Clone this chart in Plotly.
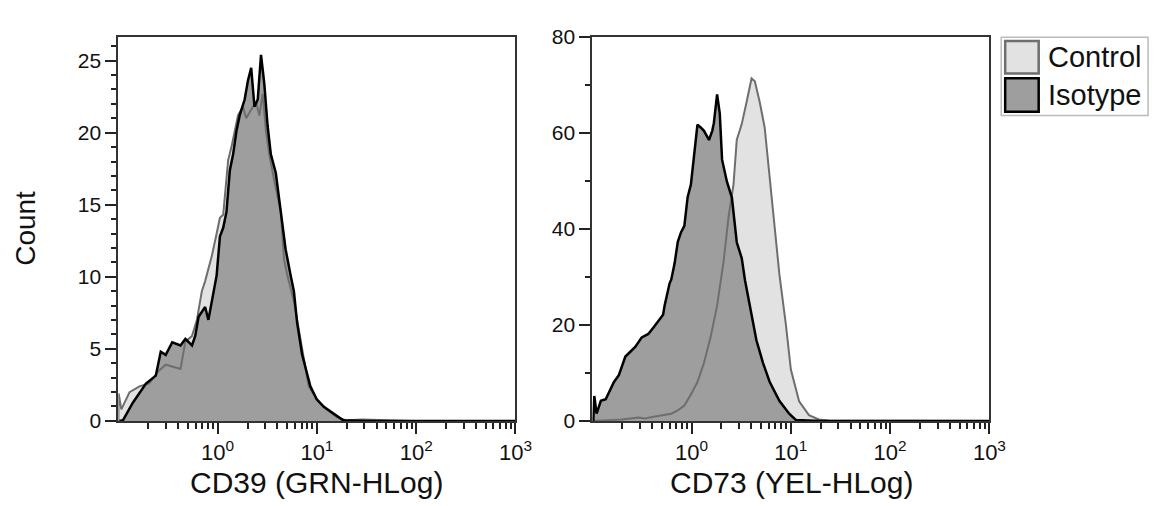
import plotly.graph_objects as go
from plotly.subplots import make_subplots

# CD39 panel, x in log10 units (decades), y = count
cd39_iso_log = [-0.99, -0.954, -0.854, -0.722, -0.623, -0.573, -0.523, -0.457, -0.374, -0.325,
                -0.258, -0.225, -0.192, -0.126, -0.093, -0.060, -0.010, 0.023, 0.056, 0.089,
                0.123, 0.156, 0.189, 0.222, 0.272, 0.305, 0.338, 0.371, 0.404, 0.437,
                0.470, 0.503, 0.536, 0.586, 0.636, 0.685, 0.735, 0.768, 0.801, 0.851,
                0.934, 0.998, 1.066, 1.132, 1.199, 1.265, 1.5, 3.0]
cd39_iso_cnt = [0, 0.04, 1.26, 2.59, 3.14, 4.80, 4.58, 5.46, 5.24, 5.69,
                5.24, 5.91, 7.23, 7.90, 7.01, 8.34, 10.1, 12.8, 13.4, 14.5,
                17.4, 18.5, 20.1, 21.2, 22.3, 23.6, 24.5, 21.8, 22.3, 25.4,
                23.4, 20.5, 18.5, 17.2, 14.5, 11.9, 10.1, 9.0, 6.8, 4.6,
                2.4, 1.5, 1.0, 0.7, 0.4, 0.04, 0, 0]

cd39_ctl_log = [-1.0, -0.997, -0.970, -0.937, -0.887, -0.788, -0.689, -0.589, -0.523, -0.424,
                -0.374, -0.325, -0.258, -0.209, -0.159, -0.126, -0.060, -0.010, 0.023, 0.056,
                0.106, 0.139, 0.172, 0.205, 0.255, 0.288, 0.338, 0.387, 0.421, 0.454,
                0.487, 0.520, 0.570, 0.636, 0.669, 0.702, 0.768, 0.834, 0.917, 1.000,
                1.099, 1.199, 1.298, 1.464, 1.662, 1.960, 3.0]
cd39_ctl_cnt = [0, 1.9, 0.8, 1.26, 2.0, 2.4, 2.6, 3.5, 3.9, 3.7,
                3.6, 5.5, 5.9, 7.0, 9.0, 9.7, 11.4, 13.0, 14.1, 14.3,
                18.1, 19.0, 20.1, 21.2, 21.8, 21.0, 21.6, 22.1, 21.2, 22.7,
                20.1, 18.5, 16.7, 14.5, 11.2, 10.1, 8.3, 5.7, 2.4, 1.5,
                0.8, 0.27, 0.04, 0.09, 0.07, 0, 0]

# CD73 panel
cd73_iso_log = [-0.990, -0.980, -0.957, -0.914, -0.865, -0.815, -0.782, -0.733, -0.667, -0.617,
                -0.568, -0.502, -0.436, -0.386, -0.337, -0.287, -0.271, -0.221, -0.205, -0.172,
                -0.139, -0.106, -0.073, -0.040, -0.007, 0.026, 0.059, 0.092, 0.125, 0.175,
                0.208, 0.224, 0.257, 0.284, 0.307, 0.356, 0.406, 0.455, 0.505, 0.538,
                0.587, 0.653, 0.719, 0.785, 0.884, 0.983, 1.050, 1.3, 3.0]
cd73_iso_cnt = [0, 5.2, 1.5, 4.2, 4.5, 6.8, 8.1, 9.5, 13.4, 14.4,
                15.4, 17.4, 18.1, 19.4, 20.7, 22.1, 24.1, 28.7, 29.4, 32.7,
                37.3, 39.3, 40.6, 46.6, 49.2, 55.8, 61.7, 61.1, 60.4, 58.5,
                60.4, 62.0, 68.0, 64.0, 54.4, 49.8, 46.5, 37.2, 33.9, 29.3,
                24.0, 16.8, 12.1, 8.2, 4.2, 1.5, 0.2, 0, 0]

cd73_ctl_log = [-0.997, -0.865, -0.700, -0.535, -0.469, -0.370, -0.271, -0.205, -0.139, -0.073,
                -0.007, 0.059, 0.125, 0.191, 0.257, 0.323, 0.373, 0.422, 0.455, 0.505,
                0.554, 0.604, 0.637, 0.686, 0.736, 0.785, 0.835, 0.884, 0.950, 1.000,
                1.083, 1.182, 1.281, 1.380, 3.0]
cd73_ctl_cnt = [0, 0.07, 0.3, 0.7, 0.5, 0.9, 1.2, 1.5, 2.2, 3.2,
                5.5, 8.1, 12.1, 17.4, 24.0, 33.3, 42.6, 49.2, 58.5, 61.8,
                66.4, 71.3, 70.7, 66.4, 61.1, 50.5, 40.5, 30.6, 20.0, 10.7,
                4.1, 1.2, 0.3, 0.07, 0]

x_titles = ["CD39 (GRN-HLog)", "CD73 (YEL-HLog)"]
series_names = ["Control", "Isotype"]

CTL_FILL, CTL_LINE = "#e2e2e2", "#6e6e6e"
ISO_FILL, ISO_LINE = "#9e9e9e", "#000000"
FONT = "Liberation Sans, Arial, sans-serif"

fig = make_subplots(rows=1, cols=2)

panels = [
    (cd39_ctl_log, cd39_ctl_cnt, cd39_iso_log, cd39_iso_cnt),
    (cd73_ctl_log, cd73_ctl_cnt, cd73_iso_log, cd73_iso_cnt),
]
for i, (cl, cc, il, ic) in enumerate(panels, start=1):
    cx = [10 ** v for v in cl]
    ix = [10 ** v for v in il]
    # fills first, outlines on top
    fig.add_trace(go.Scatter(x=cx, y=cc, mode="lines", fill="tozeroy", fillcolor=CTL_FILL,
                             line=dict(width=0), showlegend=False, hoverinfo="skip"), row=1, col=i)
    fig.add_trace(go.Scatter(x=ix, y=ic, mode="lines", fill="tozeroy", fillcolor=ISO_FILL,
                             line=dict(width=0), showlegend=False, hoverinfo="skip"), row=1, col=i)
    fig.add_trace(go.Scatter(x=cx, y=cc, mode="lines", name=series_names[0],
                             line=dict(color=CTL_LINE, width=2), showlegend=False), row=1, col=i)
    fig.add_trace(go.Scatter(x=ix, y=ic, mode="lines", name=series_names[1],
                             line=dict(color=ISO_LINE, width=2.5), showlegend=False), row=1, col=i)

minor_x = [m * 10 ** d for d in range(-1, 3) for m in range(2, 10)]
xaxis_style = dict(
    type="log", range=[-1, 3],
    tickvals=[1, 10, 100, 1000],
    ticktext=["10<sup>0</sup>", "10<sup>1</sup>", "10<sup>2</sup>", "10<sup>3</sup>"],
    ticks="outside", ticklen=11, tickwidth=1.5, tickcolor="#222",
    minor=dict(tickmode="array", tickvals=minor_x, ticks="outside", ticklen=6,
               tickwidth=1.5, tickcolor="#222"),
    showline=True, linecolor="#333", linewidth=2, mirror=True,
    showgrid=False, zeroline=False,
    tickfont=dict(family=FONT, size=22, color="#111"),
)
yaxis_style = dict(
    ticks="outside", ticklen=11, tickwidth=1.5, tickcolor="#222",
    showline=True, linecolor="#333", linewidth=2, mirror=True,
    showgrid=False, zeroline=False,
    tickfont=dict(family=FONT, size=21, color="#111"),
)

fig.update_xaxes(**xaxis_style)
fig.update_yaxes(**yaxis_style)
fig.update_xaxes(domain=[112 / 1161, 515 / 1161], row=1, col=1)
fig.update_xaxes(domain=[593 / 1161, 996 / 1161], row=1, col=2)
fig.update_yaxes(domain=[86 / 506, 488.5 / 506], range=[0, 26.66], dtick=5,
                 minor=dict(dtick=1, ticks="outside", ticklen=5, tickwidth=1.5, tickcolor="#222"),
                 row=1, col=1)
fig.update_yaxes(domain=[86 / 506, 488.5 / 506], range=[0, 80], dtick=20,
                 minor=dict(dtick=10, ticks="outside", ticklen=5, tickwidth=1.5, tickcolor="#222"),
                 row=1, col=2)

# axis titles
fig.add_annotation(text="Count", x=17 / 1161, y=(506 - 218) / 506, xref="paper", yref="paper",
                   xanchor="center", yanchor="middle",
                   textangle=-90, showarrow=False, font=dict(family=FONT, size=28, color="#111"))
for cx_px, title in zip([313, 795], x_titles):
    fig.add_annotation(text=title, x=cx_px / 1161, y=(506 - 484) / 506, xref="paper", yref="paper",
                       xanchor="center", yanchor="middle",
                       showarrow=False, font=dict(family=FONT, size=30, color="#111"))

# legend drawn by hand with square swatches
fig.add_shape(type="rect", xref="paper", yref="paper", x0=1008 / 1161, x1=1157 / 1161,
              y0=(506 - 100) / 506, y1=(506 - 18) / 506, line=dict(color="#bbbbbb", width=1.5),
              fillcolor="white")
swatches = [(CTL_FILL, CTL_LINE, 22, 56), (ISO_FILL, ISO_LINE, 61, 96)]
for (fc, lc, top, bot), name in zip(swatches, series_names):
    fig.add_shape(type="rect", xref="paper", yref="paper", x0=1012 / 1161, x1=1046 / 1161,
                  y0=(506 - bot) / 506, y1=(506 - top) / 506, line=dict(color=lc, width=2.5),
                  fillcolor=fc)
    fig.add_annotation(text=name, x=1053 / 1161, y=(506 - (top + bot) / 2) / 506,
                       xref="paper", yref="paper", xanchor="left", yanchor="middle",
                       showarrow=False, font=dict(family=FONT, size=29, color="#111"))

fig.update_layout(
    width=1161, height=506,
    margin=dict(l=0, r=0, t=0, b=0),
    paper_bgcolor="white", plot_bgcolor="white",
    showlegend=False,
)

fig.write_html("out.html")
